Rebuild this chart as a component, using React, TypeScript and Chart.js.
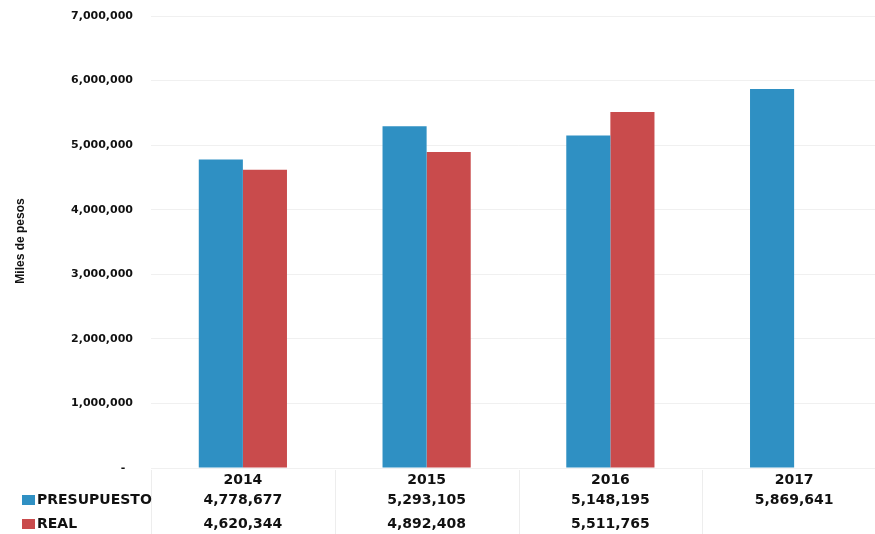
import React, { useEffect, useRef } from "react";
import { Chart, registerables } from "chart.js";

Chart.register(...registerables);

const categories = ["2014", "2015", "2016", "2017"];
const presupuesto = [4778677, 5293105, 5148195, 5869641];
const real: (number | null)[] = [4620344, 4892408, 5511765, null];
const seriesNames = ["PRESUPUESTO", "REAL"];
const yTicks = [0, 1000000, 2000000, 3000000, 4000000, 5000000, 6000000, 7000000];
const yTitle = "Miles de pesos";

const BLUE = "#2f90c3";
const RED = "#c94b4c";
const FONT = "'DejaVu Sans', sans-serif";

const fmt = (v: number) => v.toLocaleString("en-US");

export default function App() {
  const ref = useRef<HTMLCanvasElement | null>(null);

  useEffect(() => {
    document.body.style.margin = "0";
    document.body.style.overflow = "hidden";
    const canvas = ref.current!;
    const tablePlugin = {
      id: "tablePlugin",
      afterDraw(chart: any) {
        const ctx = chart.ctx;
        const xs = chart.scales.x;
        ctx.save();
        // column separators
        ctx.strokeStyle = "rgba(0,0,0,0.07)";
        ctx.lineWidth = 1;
        const step = xs.getPixelForValue(1) - xs.getPixelForValue(0);
        for (let i = 0; i < categories.length; i++) {
          const left = xs.getPixelForValue(i) - step / 2;
          ctx.beginPath();
          ctx.moveTo(Math.round(left) + 0.5, 470);
          ctx.lineTo(Math.round(left) + 0.5, 534);
          ctx.stroke();
        }
        const rows = [
          { name: seriesNames[0], color: BLUE, values: presupuesto, y: 500 },
          { name: seriesNames[1], color: RED, values: real, y: 524 },
        ];
        ctx.font = `bold 14px ${FONT}`;
        ctx.textBaseline = "middle";
        rows.forEach((r) => {
          ctx.fillStyle = r.color;
          ctx.fillRect(22, r.y - 5, 13, 10);
          ctx.fillStyle = "#111";
          ctx.textAlign = "left";
          ctx.fillText(r.name, 37, r.y);
          ctx.textAlign = "center";
          r.values.forEach((v, i) => {
            if (v == null) return;
            ctx.fillText(fmt(v), xs.getPixelForValue(i), r.y);
          });
        });
        // y title
        ctx.save();
        ctx.translate(21, 241);
        ctx.rotate(-Math.PI / 2);
        ctx.font = `bold 12px 'Liberation Sans Narrow', 'Liberation Sans', sans-serif`;
        ctx.textAlign = "center";
        ctx.textBaseline = "middle";
        ctx.fillStyle = "#111";
        ctx.fillText(yTitle, 0, 0);
        ctx.restore();
        ctx.restore();
      },
    };

    const chart = new Chart(canvas, {
      type: "bar",
      data: {
        labels: categories,
        datasets: [
          { label: seriesNames[0], data: presupuesto, backgroundColor: BLUE, categoryPercentage: 0.48, barPercentage: 1 },
          { label: seriesNames[1], data: real, backgroundColor: RED, categoryPercentage: 0.48, barPercentage: 1 },
        ],
      },
      options: {
        animation: false,
        responsive: false,
        layout: { padding: { top: 16, right: 14, left: 0, bottom: 0 } },
        plugins: { legend: { display: false }, tooltip: { enabled: false } },
        scales: {
          x: {
            afterFit: (s: any) => { s.height = 66; s.paddingTop = 0; s.paddingBottom = 0; s.paddingLeft = 0; s.paddingRight = 0; },
            grid: { display: false, drawTicks: false },
            border: { display: false },
            ticks: { padding: 4, color: "#111", font: { family: FONT, weight: "bold", size: 14 } },
          },
          y: {
            min: 0,
            max: 7000000,
            afterFit: (s: any) => { s.width = 151; s.paddingTop = 0; s.paddingBottom = 0; },
            afterBuildTicks: (s: any) => { s.ticks = yTicks.map((v) => ({ value: v })); },
            grid: { color: "rgba(0,0,0,0.06)", drawTicks: false },
            border: { display: false },
            ticks: {
              padding: 18,
              color: "#111",
              font: { family: FONT, weight: "bold", size: 11 },
              callback: (v: any) => (Number(v) === 0 ? "-  " : fmt(Number(v))),
            },
          },
        },
      },
      plugins: [tablePlugin],
    });
    return () => chart.destroy();
  }, []);

  return (
    <div style={{ position: "fixed", left: 0, top: 0, width: 875, height: 534, overflow: "hidden", background: "#fff" }}>
      <canvas ref={ref} width={900} height={534} style={{ width: 900, height: 534, display: "block" }} />
    </div>
  );
}
